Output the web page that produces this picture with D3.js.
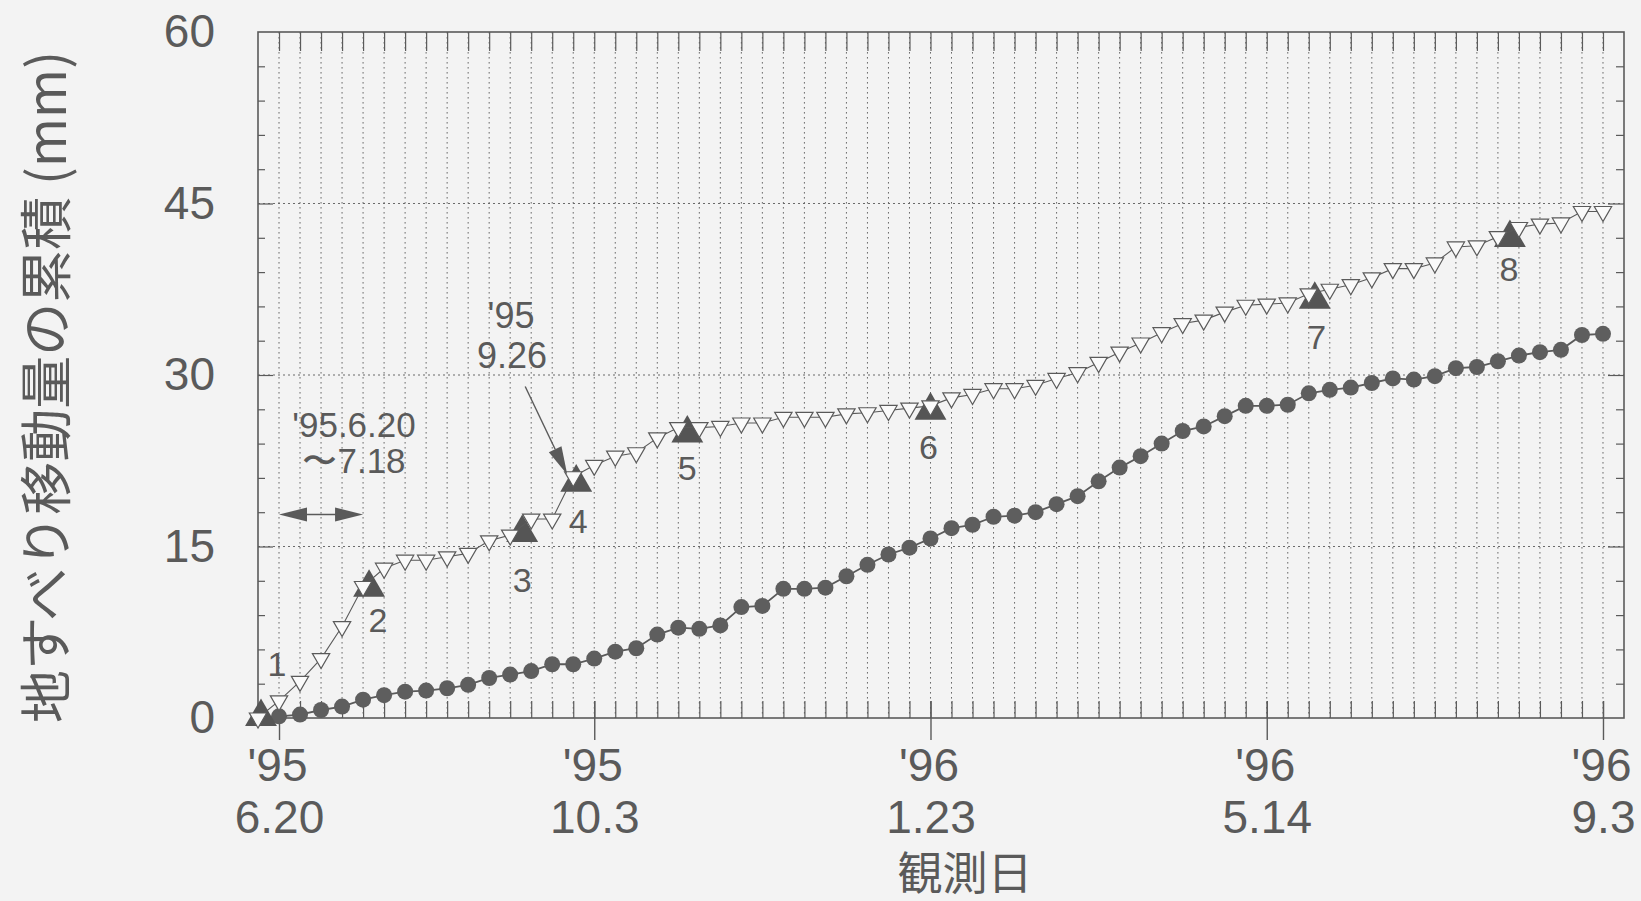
<!DOCTYPE html>
<html><head><meta charset="utf-8">
<script src="https://cdn.jsdelivr.net/npm/d3@7"></script>
<style>
html,body{margin:0;padding:0;background:#f3f3f3;}
svg{display:block;}
text{font-family:"Liberation Sans",Arial,Helvetica,sans-serif;fill:#5a5a5a;}
.cjk{font-family:"Noto Sans CJK JP","Noto Sans CJK SC",sans-serif;}
</style></head><body>
<svg id="c" width="1641" height="901"></svg>
<script>
// ---- data ----
const obsDates = [
 "1995-06-13","1995-06-20","1995-06-27","1995-07-04","1995-07-11","1995-07-18","1995-07-25","1995-08-01","1995-08-08","1995-08-15",
 "1995-08-22","1995-08-29","1995-09-05","1995-09-12","1995-09-19","1995-09-26","1995-10-03","1995-10-10","1995-10-17","1995-10-24",
 "1995-10-31","1995-11-07","1995-11-14","1995-11-21","1995-11-28","1995-12-05","1995-12-12","1995-12-19","1995-12-26","1996-01-02",
 "1996-01-09","1996-01-16","1996-01-23","1996-01-30","1996-02-06","1996-02-13","1996-02-20","1996-02-27","1996-03-05","1996-03-12",
 "1996-03-19","1996-03-26","1996-04-02","1996-04-09","1996-04-16","1996-04-23","1996-04-30","1996-05-07","1996-05-14","1996-05-21",
 "1996-05-28","1996-06-04","1996-06-11","1996-06-18","1996-06-25","1996-07-02","1996-07-09","1996-07-16","1996-07-23","1996-07-30",
 "1996-08-06","1996-08-13","1996-08-20","1996-08-27","1996-09-03"];
const seriesTriangle = [
 0,1.5,3.2,5.2,8.0,11.5,13.1,13.8,13.8,14.1,
 14.4,15.5,16.0,17.4,17.4,21.1,22.1,22.9,23.2,24.5,
 25.4,25.4,25.5,25.8,25.8,26.3,26.3,26.3,26.6,26.7,
 26.9,27.1,27.3,28.0,28.3,28.8,28.8,29.1,29.7,30.2,
 31.1,32.0,32.8,33.7,34.5,34.8,35.5,36.1,36.2,36.3,
 37.1,37.5,37.9,38.5,39.3,39.3,39.8,41.2,41.3,42.1,
 42.9,43.2,43.3,44.3,44.3];
const seriesCircle = [
 null,0.15,0.3,0.7,1.0,1.6,2.0,2.3,2.4,2.6,
 2.9,3.5,3.8,4.1,4.7,4.7,5.2,5.8,6.1,7.3,
 7.9,7.8,8.1,9.7,9.8,11.3,11.3,11.4,12.4,13.4,
 14.3,14.9,15.7,16.6,16.9,17.6,17.7,18.0,18.7,19.4,
 20.7,21.9,22.9,24.0,25.1,25.5,26.4,27.3,27.3,27.4,
 28.4,28.7,28.9,29.3,29.7,29.6,29.9,30.6,30.7,31.2,
 31.7,32.0,32.2,33.5,33.6];
const eventDates  = ["1995-06-14","1995-07-20","1995-09-09","1995-09-27","1995-11-03","1996-01-23","1996-05-30","1996-08-03"];
const eventValues = [0.1,11.4,16.2,20.6,24.9,26.9,36.6,42.0];
const eventLabels = ["1","2","3","4","5","6","7","8"];
const yTickValues = [0,15,30,45,60];
const xTickDates = ["1995-06-20","1995-10-03","1996-01-23","1996-05-14","1996-09-03"];
const xTickYear  = ["'95","'95","'96","'96","'96"];
const xTickDay   = ["6.20","10.3","1.23","5.14","9.3"];
const yTitle = "地すべり移動量の累積 (mm)";
const xTitle = "観測日";
const spanStart = "1995-06-20", spanEnd = "1995-07-18", spanValue = 17.8;
const spanText = ["'95.6.20","〜7.18"];
const arrowText = ["'95","9.26"];
const arrowTail = {date:"1995-09-10", v:29.0};
const arrowTip  = {date:"1995-09-24", v:21.3};

// ---- layout ----
const L = 258, R = 1624, T = 32, B = 718;
const ink = "#5a5a5a";
const labelOffsets = [[16,-41],[9,44],[0,59],[2,51],[0,47],[-2,49],[2,49],[-1,43]];

const parse = d3.utcParse("%Y-%m-%d");
const x = d3.scaleUtc().domain([parse("1995-06-13"), parse("1996-09-10")]).range([L, R]);
const y = d3.scaleLinear().domain([0, 60]).range([B, T]);

const svg = d3.select("#c");
svg.append("rect").attr("width",1641).attr("height",901).attr("fill","#f3f3f3");

const weekTicks = obsDates.slice(1).map(parse);
const g = svg.append("g");

// grid
g.append("g").selectAll("line").data(weekTicks).join("line")
  .attr("x1", d=>x(d)).attr("x2", d=>x(d)).attr("y1", T).attr("y2", B)
  .attr("stroke", "#6a6a6a").attr("stroke-width", 1).attr("stroke-dasharray", "1.6,3.4");
g.append("g").selectAll("line").data([15,30,45]).join("line")
  .attr("x1", L).attr("x2", R).attr("y1", d=>y(d)).attr("y2", d=>y(d))
  .attr("stroke", "#6a6a6a").attr("stroke-width", 1.1).attr("stroke-dasharray", "2,3");

function styleAxis(sel){
  sel.select(".domain").remove();
  sel.selectAll("line").attr("stroke", ink).attr("stroke-width", 1.2);
}
// inward week ticks bottom & top
g.append("g").attr("transform",`translate(0,${B})`)
  .call(d3.axisBottom(x).tickValues(weekTicks).tickSize(-17).tickFormat(""))
  .call(styleAxis);
g.append("g").attr("transform",`translate(0,${T})`)
  .call(d3.axisTop(x).tickValues(weekTicks).tickSize(-19).tickFormat(""))
  .call(styleAxis);
// y minor/major ticks, left & right
const minorY = d3.range(0, 61, 3).filter(v => v % 15 !== 0);
const majorY = [15,30,45];
g.append("g").attr("transform",`translate(${L},0)`)
  .call(d3.axisLeft(y).tickValues(minorY).tickSize(-7).tickFormat("")).call(styleAxis);
g.append("g").attr("transform",`translate(${L},0)`)
  .call(d3.axisLeft(y).tickValues(majorY).tickSize(-15).tickFormat("")).call(styleAxis);
g.append("g").attr("transform",`translate(${R},0)`)
  .call(d3.axisRight(y).tickValues(minorY).tickSize(-8).tickFormat("")).call(styleAxis);
g.append("g").attr("transform",`translate(${R},0)`)
  .call(d3.axisRight(y).tickValues(majorY).tickSize(-16).tickFormat("")).call(styleAxis);

// frame
g.append("rect").attr("x",L).attr("y",T).attr("width",R-L).attr("height",B-T)
  .attr("fill","none").attr("stroke",ink).attr("stroke-width",1.6);

// y labels
const yAx = g.append("g").attr("transform",`translate(${L},0)`)
  .call(d3.axisLeft(y).tickValues(yTickValues).tickSize(0).tickPadding(43));
yAx.select(".domain").remove();
yAx.selectAll("text").attr("font-size",46).attr("fill",ink)
  .attr("font-family","'Liberation Sans',Arial,sans-serif");

// x major ticks & 2-line labels
const xAx = g.append("g").attr("transform",`translate(0,${B})`)
  .call(d3.axisBottom(x).tickValues(xTickDates.map(parse)).tickSize(22).tickFormat(""));
xAx.select(".domain").remove();
xAx.selectAll("line").attr("stroke",ink).attr("stroke-width",1.4).attr("y1",-17);
xAx.selectAll(".tick").each(function(d,i){
  const t = d3.select(this).append("text").attr("text-anchor","middle")
    .attr("font-size",46).attr("fill",ink)
    .attr("font-family","'Liberation Sans',Arial,sans-serif");
  t.append("tspan").attr("x",-2).attr("y",63).text(xTickYear[i]);
  t.append("tspan").attr("x",0).attr("y",115).text(xTickDay[i]);
});

// titles
svg.append("text").attr("class","cjk").attr("transform","translate(43,387) rotate(-90)")
  .attr("text-anchor","middle").attr("dominant-baseline","central")
  .attr("font-size",53).attr("fill",ink).text(yTitle);
svg.append("text").attr("class","cjk").attr("x",965).attr("y",870)
  .attr("text-anchor","middle").attr("dominant-baseline","central")
  .attr("font-size",45).attr("fill",ink).text(xTitle);

// circle series
const circData = obsDates.map((d,i)=>({date:parse(d), v:seriesCircle[i]})).filter(d=>d.v!=null);
const line = d3.line().x(d=>x(d.date)).y(d=>y(d.v));
svg.append("path").datum(circData).attr("d",line).attr("fill","none")
  .attr("stroke",ink).attr("stroke-width",1.8);
svg.append("g").selectAll("circle").data(circData).join("circle")
  .attr("cx",d=>x(d.date)).attr("cy",d=>y(d.v)).attr("r",8).attr("fill","#5e5e5e");

// event triangles
const evData = eventDates.map((d,i)=>({date:parse(d), v:eventValues[i], label:eventLabels[i], off:labelOffsets[i]}));
const bigTri = d3.symbol().type(d3.symbolTriangle).size(440);
svg.append("g").selectAll("path").data(evData).join("path")
  .attr("d",bigTri).attr("transform",d=>`translate(${x(d.date)},${y(d.v)})`)
  .attr("fill","#555");
svg.append("g").selectAll("text").data(evData).join("text")
  .attr("x",d=>x(d.date)+d.off[0]).attr("y",d=>y(d.v)+d.off[1])
  .attr("text-anchor","middle").attr("font-size",34).attr("fill",ink).text(d=>d.label);

// open triangle series
const triData = obsDates.map((d,i)=>({date:parse(d), v:seriesTriangle[i]}));
svg.append("path").datum(triData).attr("d",line).attr("fill","none")
  .attr("stroke",ink).attr("stroke-width",1.1);
const smallTri = d3.symbol().type(d3.symbolTriangle).size(130);
svg.append("g").selectAll("path").data(triData).join("path")
  .attr("d",smallTri).attr("transform",d=>`translate(${x(d.date)},${y(d.v)}) rotate(180)`)
  .attr("fill","#fafafa").attr("stroke",ink).attr("stroke-width",1.2);

// annotations: span double arrow
const sx1 = x(parse(spanStart)), sx2 = x(parse(spanEnd)), sy = y(spanValue);
const ann = svg.append("g");
ann.append("line").attr("x1",sx1+20).attr("x2",sx2-20).attr("y1",sy).attr("y2",sy)
  .attr("stroke",ink).attr("stroke-width",1.6);
ann.append("path").attr("d",`M${sx1},${sy} L${sx1+28},${sy-7} L${sx1+28},${sy+7} Z`).attr("fill",ink);
ann.append("path").attr("d",`M${sx2},${sy} L${sx2-28},${sy-7} L${sx2-28},${sy+7} Z`).attr("fill",ink);
ann.append("text").attr("x",354).attr("y",437).attr("text-anchor","middle")
  .attr("font-size",35).attr("fill",ink).text(spanText[0]);
ann.append("text").attr("x",354).attr("y",473).attr("text-anchor","middle")
  .attr("font-size",35).attr("fill",ink).text(spanText[1]);
// pointing arrow
const ax1 = x(parse(arrowTail.date)), ay1 = y(arrowTail.v);
const ax2 = x(parse(arrowTip.date)), ay2 = y(arrowTip.v);
const ang = Math.atan2(ay2-ay1, ax2-ax1);
const hl = 28, hw = 7;
const bx = ax2 - hl*Math.cos(ang), by = ay2 - hl*Math.sin(ang);
ann.append("line").attr("x1",ax1).attr("y1",ay1).attr("x2",bx).attr("y2",by)
  .attr("stroke",ink).attr("stroke-width",1.4);
ann.append("path").attr("d",`M${ax2},${ay2} L${bx - hw*Math.sin(ang)},${by + hw*Math.cos(ang)} L${bx + hw*Math.sin(ang)},${by - hw*Math.cos(ang)} Z`)
  .attr("fill",ink);
ann.append("text").attr("x",511).attr("y",328).attr("text-anchor","middle")
  .attr("font-size",36).attr("fill",ink).text(arrowText[0]);
ann.append("text").attr("x",512).attr("y",368).attr("text-anchor","middle")
  .attr("font-size",36).attr("fill",ink).text(arrowText[1]);
</script>
</body></html>
